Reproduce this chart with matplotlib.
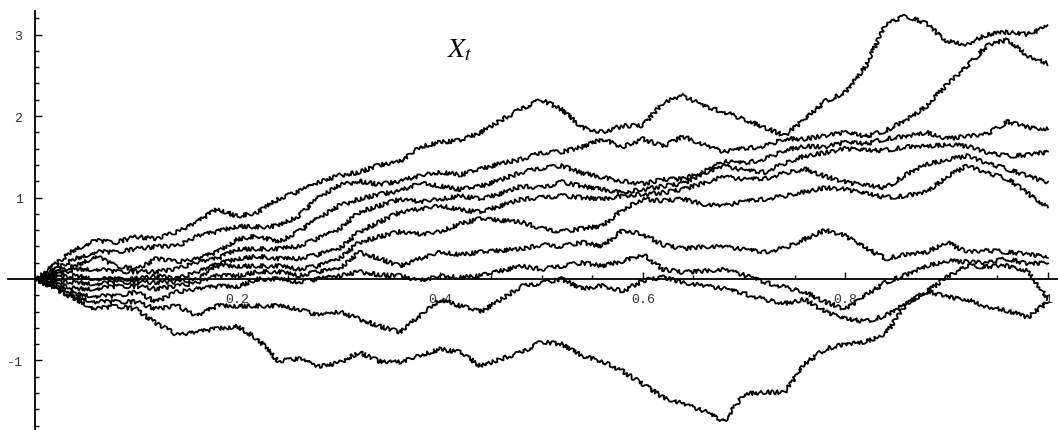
import numpy as np
import matplotlib.pyplot as plt
from matplotlib.ticker import FixedLocator

# sample times (step 0.02)
t = np.linspace(0, 1, 51)

# paths, one list per curve (top to bottom by rank)
path1 = [0, 0.18, 0.37, 0.47, 0.45, 0.52, 0.49, 0.58, 0.70, 0.86,
         0.77, 0.82, 0.98, 1.07, 1.19, 1.27, 1.31, 1.40, 1.44, 1.62,
         1.68, 1.70, 1.80, 1.95, 2.09, 2.20, 2.08, 1.86, 1.80, 1.88,
         1.88, 2.17, 2.25, 2.12, 2.05, 1.96, 1.86, 1.76, 1.96, 2.18,
         2.29, 2.61, 3.13, 3.23, 3.13, 2.92, 2.88, 3.00, 3.03, 3.00,
         3.10]
path2 = [0, 0.12, 0.25, 0.33, 0.33, 0.37, 0.40, 0.40, 0.53, 0.58,
         0.65, 0.64, 0.65, 0.77, 1.00, 1.15, 1.20, 1.16, 1.20, 1.27,
         1.31, 1.28, 1.35, 1.42, 1.47, 1.55, 1.56, 1.62, 1.72, 1.62,
         1.72, 1.63, 1.75, 1.65, 1.56, 1.60, 1.63, 1.72, 1.72, 1.76,
         1.80, 1.75, 1.82, 1.95, 2.12, 2.38, 2.61, 2.86, 2.94, 2.74,
         2.64]
path3 = [0, 0.08, 0.16, 0.28, 0.16, 0.12, 0.25, 0.21, 0.25, 0.33,
         0.49, 0.53, 0.45, 0.58, 0.75, 0.90, 0.98, 1.04, 1.08, 1.18,
         1.14, 1.10, 1.14, 1.22, 1.31, 1.36, 1.39, 1.30, 1.25, 1.20,
         1.17, 1.22, 1.23, 1.32, 1.44, 1.42, 1.47, 1.58, 1.63, 1.62,
         1.68, 1.66, 1.72, 1.75, 1.80, 1.72, 1.75, 1.78, 1.93, 1.86,
         1.84]
path4 = [0, 0.05, 0.12, 0.12, 0.09, 0.09, 0.09, 0.12, 0.21, 0.25,
         0.37, 0.37, 0.37, 0.40, 0.50, 0.61, 0.82, 0.90, 0.98, 0.95,
         0.98, 1.02, 0.98, 1.05, 1.14, 1.12, 1.19, 1.14, 1.10, 1.06,
         1.10, 1.14, 1.17, 1.30, 1.39, 1.33, 1.31, 1.42, 1.51, 1.55,
         1.60, 1.58, 1.58, 1.62, 1.63, 1.65, 1.63, 1.55, 1.51, 1.52,
         1.56]
path5 = [0, 0.02, 0.04, 0.00, 0.00, 0.00, 0.04, 0.00, 0.09, 0.18,
         0.25, 0.28, 0.25, 0.25, 0.30, 0.37, 0.58, 0.70, 0.82, 0.86,
         0.90, 0.85, 0.82, 0.90, 0.98, 1.00, 1.02, 1.00, 0.98, 1.02,
         1.04, 1.06, 1.10, 1.18, 1.26, 1.22, 1.23, 1.30, 1.35, 1.26,
         1.19, 1.15, 1.12, 1.28, 1.41, 1.46, 1.51, 1.42, 1.35, 1.26,
         1.19]
path6 = [0, -0.03, -0.04, -0.06, -0.04, -0.04, -0.04, -0.04, 0.00, 0.16,
         0.16, 0.16, 0.16, 0.12, 0.16, 0.25, 0.45, 0.52, 0.58, 0.55,
         0.58, 0.68, 0.74, 0.72, 0.70, 0.62, 0.58, 0.62, 0.65, 0.85,
         0.98, 0.96, 0.98, 0.92, 0.90, 0.95, 0.98, 1.02, 1.07, 1.12,
         1.10, 1.05, 1.00, 1.02, 1.07, 1.25, 1.39, 1.30, 1.23, 1.05,
         0.88]
path7 = [0, -0.06, -0.12, -0.12, -0.09, -0.09, -0.12, -0.09, -0.04, 0.04,
         0.04, 0.09, 0.09, 0.04, 0.09, 0.12, 0.33, 0.25, 0.16, 0.25,
         0.33, 0.30, 0.33, 0.35, 0.37, 0.42, 0.40, 0.45, 0.40, 0.60,
         0.55, 0.42, 0.37, 0.40, 0.40, 0.36, 0.33, 0.38, 0.49, 0.60,
         0.53, 0.38, 0.25, 0.30, 0.33, 0.45, 0.33, 0.35, 0.33, 0.30,
         0.28]
path8 = [0, -0.09, -0.18, -0.21, -0.21, -0.16, -0.28, -0.16, -0.12, -0.09,
         -0.09, 0.00, 0.00, -0.04, 0.00, 0.04, 0.09, 0.05, 0.04, -0.02,
         0.04, 0.02, 0.04, 0.10, 0.16, 0.12, 0.16, 0.20, 0.16, 0.22,
         0.30, 0.12, 0.08, 0.10, 0.12, 0.05, -0.04, -0.10, -0.16, -0.28,
         -0.37, -0.20, -0.04, 0.05, 0.16, 0.22, 0.21, 0.20, 0.25, 0.18,
         0.21]
path9 = [0, -0.12, -0.22, -0.28, -0.28, -0.28, -0.37, -0.33, -0.45, -0.33,
         -0.33, -0.33, -0.33, -0.37, -0.45, -0.40, -0.49, -0.58, -0.65, -0.45,
         -0.25, -0.33, -0.40, -0.25, -0.09, -0.05, 0.00, -0.12, -0.08, -0.15,
         -0.02, 0.02, -0.04, -0.08, -0.12, -0.18, -0.25, -0.30, -0.25, -0.40,
         -0.49, -0.52, -0.45, -0.30, -0.16, 0.02, 0.16, 0.15, 0.16, 0.10,
         -0.25]
path10 = [0, -0.12, -0.25, -0.37, -0.33, -0.37, -0.55, -0.68, -0.65, -0.61,
          -0.58, -0.74, -1.01, -0.98, -1.07, -1.03, -0.90, -1.01, -1.02, -0.94,
          -0.86, -0.90, -1.07, -0.98, -0.90, -0.77, -0.80, -0.94, -1.01, -1.13,
          -1.29, -1.45, -1.53, -1.62, -1.75, -1.41, -1.39, -1.39, -1.04, -0.86,
          -0.80, -0.77, -0.67, -0.31, -0.15, -0.22, -0.25, -0.34, -0.39, -0.47,
          -0.28]

paths = [path1, path2, path3, path4, path5, path6, path7, path8, path9, path10]

x_major = [0.2, 0.4, 0.6, 0.8, 1.0]
x_labels = ["0.2", "0.4", "0.6", "0.8", "1"]
y_major = [-1, 1, 2, 3]
y_labels = ["-1", "1", "2", "3"]

fig = plt.figure(figsize=(10.58, 4.31), dpi=100)
ax = fig.add_axes([0, 0, 1, 1])

for p in paths:
    line, = ax.plot(t, p, color="black", lw=1.3)
    # jagged pen, like the fine random-walk detail of the original
    line.set_sketch_params(2.0, 5, 10)

ax.set_xlim(-0.0346, 1.0099)
ax.set_ylim(-1.853, 3.436)

# Mathematica-style axes crossing at the origin
for s in ["top", "right"]:
    ax.spines[s].set_visible(False)
ax.spines["left"].set_position(("data", 0))
ax.spines["bottom"].set_position(("data", 0))
ax.spines["left"].set_bounds(-1.853, 3.29)
ax.spines["bottom"].set_bounds(-0.027, 1.0099)
ax.spines["left"].set_linewidth(1.3)
ax.spines["bottom"].set_linewidth(1.3)

ax.xaxis.set_major_locator(FixedLocator(x_major))
ax.xaxis.set_minor_locator(FixedLocator([v for v in np.arange(0.05, 1.001, 0.05)
                                         if abs(v * 5 - round(v * 5)) > 1e-6]))
ax.set_xticklabels(x_labels)
ax.yaxis.set_major_locator(FixedLocator(y_major))
ax.yaxis.set_minor_locator(FixedLocator([v for v in np.arange(-1.8, 3.21, 0.2)
                                         if abs(v - round(v)) > 1e-6]))
ax.set_yticklabels(y_labels)

ax.tick_params(which="both", direction="in", color="black", width=1.0)
ax.tick_params(which="major", length=5)
ax.tick_params(which="minor", length=3)
ax.tick_params(axis="x", pad=10)
ax.tick_params(axis="y", pad=9)
for lab in ax.get_xticklabels() + ax.get_yticklabels():
    lab.set_fontfamily("Liberation Mono")
    lab.set_fontsize(9.5)
    lab.set_color("#333333")

plt.rcParams["mathtext.fontset"] = "stix"
ax.text(0.435, 0.885, r"$X_t$", transform=ax.transAxes, fontsize=20,
        ha="center", va="center")

fig.savefig("out.png", dpi=100)
